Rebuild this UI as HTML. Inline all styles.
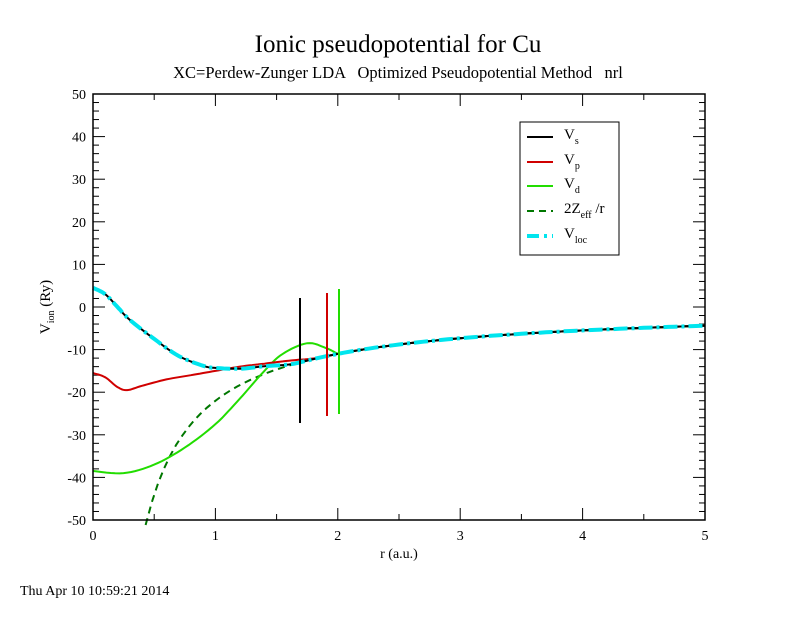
<!DOCTYPE html>
<html><head><meta charset="utf-8"><style>
body{margin:0;background:#fff;}
svg text{font-family:"Liberation Serif",serif;fill:#000;}
</style></head><body>
<svg id="s" width="792" height="612" xmlns="http://www.w3.org/2000/svg">
<rect width="792" height="612" fill="#fff"/>
<text x="398" y="52" font-size="25" text-anchor="middle">Ionic pseudopotential for Cu</text>
<text x="398" y="78" font-size="16.5" text-anchor="middle" xml:space="preserve">XC=Perdew-Zunger LDA   Optimized Pseudopotential Method   nrl</text>
<g id="ticks"></g>
<g id="curves"></g>
<rect x="93" y="94" width="612" height="426" fill="none" stroke="#000" stroke-width="1.5"/>
<text x="399" y="558" font-size="14" text-anchor="middle">r (a.u.)</text>
<text transform="translate(50,307) rotate(-90)" font-size="15" text-anchor="middle">V<tspan font-size="10" dy="4">ion</tspan><tspan dy="-4"> (Ry)</tspan></text>
<text x="20" y="595" font-size="14">Thu Apr 10 10:59:21 2014</text>
<rect x="520" y="122" width="99" height="133" fill="#fff" stroke="#000" stroke-width="1"/>
<line x1="527" y1="137" x2="553" y2="137" stroke="#000" stroke-width="2"/>
<line x1="527" y1="162" x2="553" y2="162" stroke="#d00000" stroke-width="2"/>
<line x1="527" y1="186" x2="553" y2="186" stroke="#22dd00" stroke-width="2"/>
<line x1="527" y1="211" x2="553" y2="211" stroke="#007700" stroke-width="2" stroke-dasharray="7,5"/>
<line x1="527" y1="236" x2="553" y2="236" stroke="#00e5ee" stroke-width="4" stroke-dasharray="12,5,3,5"/>
<text x="564" y="139" font-size="15">V<tspan font-size="10" dy="5">s</tspan></text>
<text x="564" y="164" font-size="15">V<tspan font-size="10" dy="5">p</tspan></text>
<text x="564" y="188" font-size="15">V<tspan font-size="10" dy="5">d</tspan></text>
<text x="564" y="213" font-size="15">2Z<tspan font-size="10" dy="5">eff</tspan><tspan dy="-5"> /r</tspan></text>
<text x="564" y="238" font-size="15">V<tspan font-size="10" dy="5">loc</tspan></text>
</svg>
<script>
var NS="http://www.w3.org/2000/svg";
function X(r){return 93+r*122.4;}function Y(v){return 307-v*4.26;}
function el(p,t,a){var e=document.createElementNS(NS,t);for(var k in a)e.setAttribute(k,a[k]);p.appendChild(e);return e;}
var tk=document.getElementById('ticks'),cv=document.getElementById('curves');
for(var i=0;i<=10;i++){var r=i*0.5,x=X(r),L=(i%2==0)?12:6;
el(tk,'line',{x1:x,y1:520,x2:x,y2:520-L,stroke:'#000'});el(tk,'line',{x1:x,y1:94,x2:x,y2:94+L,stroke:'#000'});
if(i%2==0){var t=el(tk,'text',{x:x,y:540,'font-size':14,'text-anchor':'middle'});t.textContent=r;}}
for(var v=-50;v<=50;v+=2){var y=Y(v),L=(v%10==0)?12:6;
el(tk,'line',{x1:93,y1:y,x2:93+L,y2:y,stroke:'#000'});el(tk,'line',{x1:705,y1:y,x2:705-L,y2:y,stroke:'#000'});
if(v%10==0){var t=el(tk,'text',{x:86,y:y+5,'font-size':14,'text-anchor':'end'});t.textContent=v;}}
function spline(pts,n){var out=[];for(var i=0;i<pts.length-1;i++){var p0=pts[Math.max(0,i-1)],p1=pts[i],p2=pts[i+1],p3=pts[Math.min(pts.length-1,i+2)];
for(var k=0;k<n;k++){var t=k/n,t2=t*t,t3=t2*t;var f=function(a,b,c,d){return 0.5*(2*b+(-a+c)*t+(2*a-5*b+4*c-d)*t2+(-a+3*b-3*c+d)*t3);};
out.push([f(p0[0],p1[0],p2[0],p3[0]),f(p0[1],p1[1],p2[1],p3[1])]);}}out.push(pts[pts.length-1]);return out;}
function coul(r0){var a=[];for(var r=r0;r<=5.0001;r+=0.05)a.push([r,-22/r]);return a;}
function path(pts,st){var d=pts.map(function(p,i){return (i?'L':'M')+X(p[0]).toFixed(1)+','+Y(p[1]).toFixed(1);}).join('');st.d=d;st.fill='none';el(cv,'path',st);}
var vs=spline([[0,4.5],[0.1,3],[0.2,0],[0.3,-3],[0.5,-7.5],[0.7,-11.5],[0.9,-13.8],[1.0,-14.3],[1.2,-14.5],[1.4,-13.9],[1.6,-13.5],[1.7,-12.94]],8).concat(coul(1.75));
var vp=spline([[0,-15.5],[0.1,-16.5],[0.2,-18.8],[0.28,-19.5],[0.4,-18.5],[0.6,-17],[0.8,-16],[1,-15],[1.2,-14],[1.4,-13.3],[1.6,-12.6],[1.8,-12.1],[1.92,-11.46]],8).concat(coul(1.95));
var vd=spline([[0,-38.5],[0.25,-39],[0.5,-37],[0.75,-33],[1,-27.5],[1.2,-21.5],[1.4,-15],[1.55,-11],[1.75,-8.5],[1.9,-9.6],[2.0,-11]],8).concat(coul(2.05));
path(coul(0.43),{stroke:'#007700','stroke-width':2,'stroke-dasharray':'7,5'});
path(vd,{stroke:'#22dd00','stroke-width':2});
path(vp,{stroke:'#d00000','stroke-width':2});
path(vs,{stroke:'#000','stroke-width':2});
path(vs,{stroke:'#00e5ee','stroke-width':4,'stroke-dasharray':'14,4,3,4'});
el(cv,'line',{x1:300,y1:298,x2:300,y2:423,stroke:'#000','stroke-width':2});
el(cv,'line',{x1:327,y1:293,x2:327,y2:416,stroke:'#d00000','stroke-width':2});
el(cv,'line',{x1:339,y1:289,x2:339,y2:414,stroke:'#22dd00','stroke-width':2});
</script>
</body></html>
